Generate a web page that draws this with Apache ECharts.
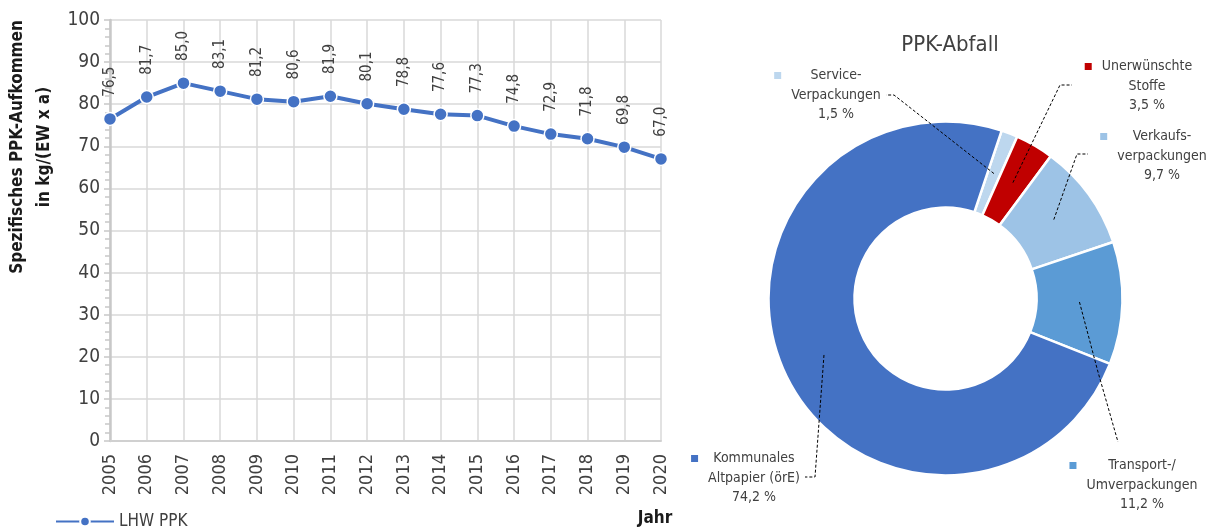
<!DOCTYPE html>
<html>
<head>
<meta charset="utf-8">
<script src="https://cdn.jsdelivr.net/npm/echarts@6/dist/echarts.min.js"></script>
<style>
  html, body { margin: 0; padding: 0; background: #fff; }
  #chart { width: 1213px; height: 528px; }
</style>
</head>
<body>
<div id="chart"></div>
<script>
// Specific PPK collection per inhabitant and year (kg/(EW x a))
const years = ['2005', '2006', '2007', '2008', '2009', '2010', '2011', '2012',
               '2013', '2014', '2015', '2016', '2017', '2018', '2019', '2020'];
const ppkPerCapita = [76.5, 81.7, 85.0, 83.1, 81.2, 80.6, 81.9, 80.1,
                      78.8, 77.6, 77.3, 74.8, 72.9, 71.8, 69.8, 67.0];
const seriesName = 'LHW PPK';

// Composition of the PPK waste (share in %)
const fractionNames = ['Service-\nVerpackungen', 'Unerwünschte\nStoffe', 'Verkaufs-\nverpackungen',
                       'Transport-/\nUmverpackungen', 'Kommunales\nAltpapier (örE)'];
const fractionShares = [1.5, 3.5, 9.7, 11.2, 74.2];
const fractionColors = ['#BDD7EE', '#C00000', '#9DC3E6', '#5B9BD5', '#4472C4'];

const FONT = "'Liberation Sans Narrow', 'DejaVu Sans Condensed', 'Roboto', sans-serif";
const TEXT = '#404040';

// Donut geometry and where each callout sits
const donutCenter = [945.5, 298.5];
const donutRadius = [91, 177];
const calloutPad = 17;
const callouts = [
  { x: 836, y: 95,  bend: [894, 95],    end: [886, 95] },
  { x: 1147, y: 86, bend: [1060, 85],   end: [1072, 85] },
  { x: 1162, y: 156, bend: [1077, 154], end: [1088, 154] },
  { x: 1142, y: 485, bend: [1098, 372], end: [1118, 442] },
  { x: 754, y: 478, bend: [815, 477],   end: [805, 477] }
];
const startAngle = 71.5;

const fmt = v => v.toFixed(1).replace('.', ',');

// mid-ring point of a slice, derived from the shares
function sliceAnchor(i) {
  const total = fractionShares.reduce((a, b) => a + b, 0);
  let before = 0;
  for (let k = 0; k < i; k++) before += fractionShares[k];
  const mid = before + fractionShares[i] / 2;
  const ang = (startAngle - 360 * mid / total) * Math.PI / 180;
  const r = (donutRadius[0] + donutRadius[1]) / 2;
  return [donutCenter[0] + r * Math.cos(ang), donutCenter[1] - r * Math.sin(ang)];
}

const rich = { t: { fontFamily: FONT, fontSize: 14, color: TEXT, lineHeight: 19.5 },
               pad: { width: calloutPad, height: 8, align: 'left' } };
fractionColors.forEach((c, i) => {
  rich['sq' + i] = { width: 7, height: 7, backgroundColor: c, align: 'left' };
  rich['gap' + i] = { width: calloutPad - 7, height: 7, align: 'left' };
});

const sliceData = fractionNames.map((n, i) => ({
  name: n, value: fractionShares[i], itemStyle: { color: fractionColors[i] }
}));

const chart = echarts.init(document.getElementById('chart'), null, { renderer: 'canvas' });

chart.setOption({
  animation: false,
  backgroundColor: '#ffffff',
  textStyle: { fontFamily: FONT },
  title: {
    text: 'PPK-Abfall',
    left: 945, top: 29, textAlign: 'center',
    textStyle: { fontFamily: FONT, fontSize: 22, fontWeight: 'normal', color: TEXT }
  },
  legend: {
    left: 50, top: 508,
    itemWidth: 58, itemHeight: 12, itemGap: 4,
    data: [seriesName],
    textStyle: { fontFamily: FONT, fontSize: 17, color: TEXT }
  },
  grid: { left: 110, right: 552, top: 20, bottom: 87, containLabel: false },
  xAxis: {
    type: 'category',
    data: years,
    boundaryGap: false,
    axisLine: { lineStyle: { color: '#D0D0D0', width: 2 } },
    axisTick: { show: false },
    splitLine: { show: true, lineStyle: { color: '#D9D9D9', width: 1.5 } },
    axisLabel: { rotate: 90, margin: 13, fontSize: 18, color: TEXT, fontFamily: FONT }
  },
  yAxis: {
    type: 'value',
    min: 0, max: 100, interval: 10,
    axisLine: { show: true, lineStyle: { color: '#C8C8C8', width: 2.5 } },
    axisTick: { show: true, length: 6, lineStyle: { color: '#C8C8C8', width: 1.5 } },
    minorTick: { show: true, splitNumber: 5, length: 5, lineStyle: { color: '#C8C8C8', width: 1.5 } },
    splitLine: { lineStyle: { color: '#D9D9D9', width: 1.5 } },
    axisLabel: { margin: 10, fontSize: 19, color: TEXT, fontFamily: FONT }
  },
  graphic: [
    {
      type: 'text', x: 31, y: 147, rotation: Math.PI / 2,
      style: {
        text: 'Spezifisches PPK-Aufkommen\nin kg/(EW x a)',
        fontFamily: FONT, fontSize: 17, fontWeight: 'bold', lineHeight: 27,
        fill: '#1a1a1a', align: 'center', verticalAlign: 'middle'
      }
    },
    {
      type: 'text', x: 655, y: 519,
      style: {
        text: 'Jahr', fontFamily: FONT, fontSize: 17, fontWeight: 'bold',
        fill: '#1a1a1a', align: 'center', verticalAlign: 'middle'
      }
    }
  ],
  series: [
    {
      name: seriesName,
      type: 'line',
      data: ppkPerCapita,
      lineStyle: { color: '#4472C4', width: 4 },
      itemStyle: { color: '#4472C4', borderColor: '#ffffff', borderWidth: 1.5 },
      symbol: 'circle',
      symbolSize: 13,
      label: {
        show: true, position: 'top', distance: 15, rotate: 90,
        align: 'left', verticalAlign: 'middle',
        fontFamily: FONT, fontSize: 15, color: TEXT,
        formatter: p => fmt(p.value)
      }
    },
    {
      // donut slices
      name: 'PPK-Abfall',
      type: 'pie',
      center: donutCenter,
      radius: donutRadius,
      startAngle: startAngle,
      clockwise: true,
      silent: true,
      itemStyle: { borderColor: '#ffffff', borderWidth: 2.5 },
      label: { show: false },
      labelLine: { show: false },
      data: sliceData
    },
    {
      // callouts drawn above the slices
      name: 'PPK-Abfall Beschriftung',
      type: 'pie',
      z: 5,
      center: donutCenter,
      radius: donutRadius,
      startAngle: startAngle,
      clockwise: true,
      silent: true,
      avoidLabelOverlap: false,
      itemStyle: { color: 'rgba(0,0,0,0)', borderWidth: 0 },
      data: fractionNames.map((n, i) => ({ name: n, value: fractionShares[i] })),
      label: {
        show: true, position: 'outside', align: 'center',
        rich: rich,
        formatter: p => {
          const lines = p.name.split('\n').concat([fmt(p.value) + ' %']);
          return lines.map((l, k) => k === 0
            ? '{sq' + p.dataIndex + '|}{gap' + p.dataIndex + '|}{t|' + l + '}'
            : '{pad|}{t|' + l + '}').join('\n');
        }
      },
      labelLine: {
        show: true,
        lineStyle: { color: '#000000', width: 1, type: [3, 2] }
      },
      labelLayout: p => {
        const c = callouts[p.dataIndex];
        return {
          x: c.x - calloutPad / 2, y: c.y,
          align: 'center', verticalAlign: 'middle',
          labelLinePoints: [sliceAnchor(p.dataIndex), c.bend, c.end]
        };
      }
    }
  ]
});
</script>
</body>
</html>
